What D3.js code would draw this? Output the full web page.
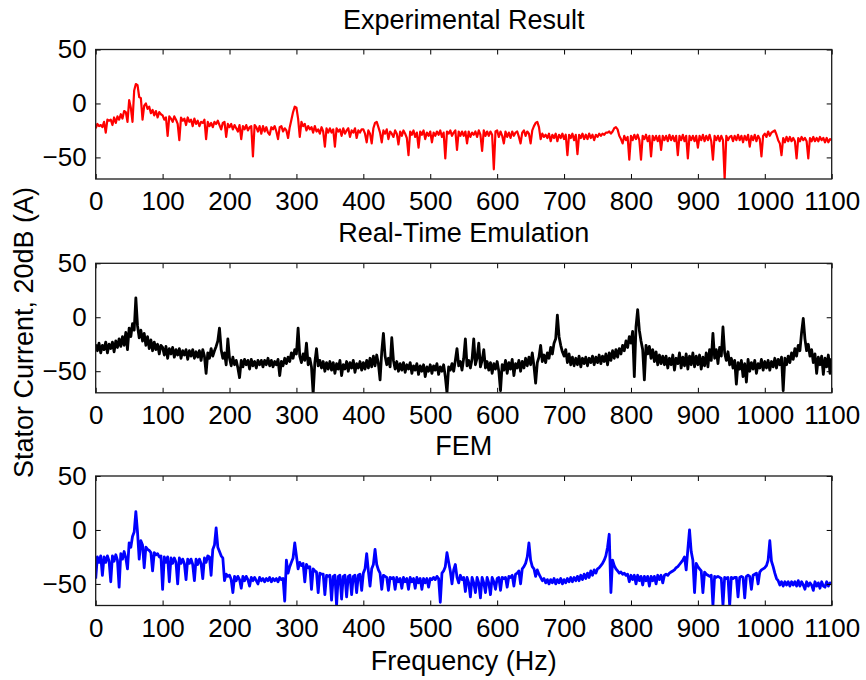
<!DOCTYPE html>
<html>
<head>
<meta charset="utf-8">
<script src="https://cdn.jsdelivr.net/npm/d3@7"></script>
<style>
  body { margin: 0; background: #fff; }
  svg text { font-family: "Liberation Sans", Arial, Helvetica, sans-serif; fill: #000; }
</style>
</head>
<body>
<svg id="chart" width="866" height="680"></svg>
<script>
// Stator current spectra (dB), one value per frequency bin
const binStep = 2.5; // Hz between bins
const panelTitles = ["Experimental Result", "Real-Time Emulation", "FEM"];
const xTicks = [0, 100, 200, 300, 400, 500, 600, 700, 800, 900, 1000, 1100];
const yTicks = [-50, 0, 50];
const yDomain = [-70, 50];
const xLabel = "Frequency (Hz)";
const yLabel = "Stator Current, 20dB (A)";

const experimental = [
  -23,-19,-21,-20,-22,-17,-27,-15,-16,-15,-20,-13,-18,-12,-15,-10,-14,-7,-8,-17,
  3,-4,-17,12,18,17,6,5,-15,-2,0,-5,-3,-9,-6,-11,-7,-13,-8,-10,
  -11,-15,-13,-30,-12,-14,-17,-12,-15,-19,-34,-13,-16,-14,-20,-13,-17,-15,-21,-14,
  -19,-16,-21,-17,-18,-15,-33,-17,-21,-18,-22,-17,-19,-16,-20,-24,-18,-17,-31,-19,
  -22,-19,-24,-20,-23,-26,-20,-33,-21,-24,-20,-25,-22,-21,-49,-20,-22,-26,-21,-28,
  -21,-26,-22,-27,-29,-22,-24,-21,-26,-33,-22,-21,-26,-23,-25,-32,-22,-15,-8,-3,
  -4,-14,-31,-17,-21,-19,-25,-21,-24,-22,-27,-21,-26,-24,-28,-22,-26,-40,-23,-27,
  -23,-27,-24,-40,-23,-26,-24,-30,-23,-28,-25,-23,-31,-25,-27,-23,-32,-25,-27,-24,
  -24,-28,-36,-25,-28,-37,-23,-18,-17,-22,-27,-36,-25,-28,-24,-33,-26,-28,-31,-25,
  -28,-38,-26,-30,-25,-28,-32,-48,-26,-29,-25,-31,-27,-41,-26,-29,-25,-33,-27,-30,
  -26,-36,-27,-30,-26,-29,-25,-31,-27,-51,-26,-28,-25,-30,-27,-25,-43,-26,-30,-26,
  -30,-26,-37,-26,-31,-27,-29,-26,-31,-25,-29,-44,-25,-30,-26,-30,-26,-29,-61,-26,
  -25,-31,-26,-30,-37,-26,-31,-27,-32,-26,-30,-27,-26,-31,-37,-27,-25,-30,-26,-28,
  -37,-25,-21,-18,-17,-22,-33,-28,-31,-29,-32,-28,-35,-29,-32,-28,-35,-29,-32,-28,
  -33,-29,-48,-29,-32,-28,-34,-29,-47,-29,-32,-28,-33,-29,-33,-28,-32,-29,-34,-29,
  -31,-28,-30,-28,-29,-27,-27,-26,-28,-26,-23,-22,-24,-30,-33,-37,-30,-34,-31,-52,
  -30,-34,-29,-33,-29,-34,-52,-30,-33,-29,-35,-30,-49,-30,-34,-30,-35,-30,-43,-30,
  -34,-30,-35,-29,-34,-30,-35,-30,-48,-30,-34,-29,-35,-30,-51,-30,-34,-30,-35,-30,
  -41,-30,-34,-29,-35,-30,-34,-29,-35,-52,-30,-34,-30,-35,-30,-34,-70,-30,-34,-31,
  -30,-35,-30,-34,-29,-34,-30,-36,-30,-34,-29,-40,-30,-34,-29,-35,-30,-33,-49,-30,
  -28,-31,-26,-30,-27,-26,-25,-29,-34,-37,-48,-32,-36,-31,-35,-31,-35,-32,-35,-51,
  -32,-35,-31,-34,-32,-35,-51,-32,-35,-31,-35,-32,-35,-31,-34,-32,-36,-32,-36,-33,-34
];

const emulation = [
  -25,-31,-24,-33,-26,-30,-23,-33,-25,-29,-23,-32,-22,-28,-20,-27,-18,-26,-14,-30,
  -10,-18,-6,-12,18,-8,-19,-12,-22,-15,-26,-18,-29,-21,-31,-23,-30,-25,-34,-26,
  -28,-35,-27,-38,-29,-34,-28,-37,-30,-35,-29,-38,-31,-35,-30,-39,-31,-36,-30,-38,
  -32,-37,-31,-40,-30,-36,-52,-33,-38,-29,-36,-31,-27,-22,-10,-30,-38,-33,-44,-20,
  -38,-45,-37,-44,-40,-47,-56,-40,-46,-39,-44,-40,-48,-39,-45,-41,-47,-40,-44,-40,
  -46,-40,-44,-38,-45,-40,-46,-41,-44,-39,-54,-41,-45,-38,-43,-37,-41,-33,-38,-30,
  -34,-10,-36,-42,-34,-40,-24,-44,-38,-46,-71,-42,-29,-45,-40,-47,-41,-50,-42,-48,
  -41,-49,-42,-52,-43,-48,-40,-54,-44,-48,-41,-50,-42,-47,-40,-51,-43,-47,-41,-49,
  -42,-48,-40,-47,-38,-46,-36,-45,-35,-43,-58,-32,-15,-36,-44,-38,-46,-19,-40,-48,
  -41,-50,-43,-49,-42,-51,-44,-48,-42,-52,-45,-49,-43,-53,-45,-50,-44,-55,-46,-50,
  -44,-52,-45,-49,-43,-53,-46,-50,-44,-55,-70,-46,-49,-43,-50,-40,-29,-45,-41,-49,
  -38,-20,-45,-40,-47,-39,-20,-44,-38,-24,-46,-40,-30,-47,-41,-49,-42,-52,-43,-48,
  -41,-50,-68,-44,-49,-40,-52,-42,-48,-39,-54,-43,-47,-40,-50,-41,-47,-38,-45,-37,
  -44,-33,-45,-61,-42,-37,-26,-41,-35,-42,-33,-38,-28,-34,-24,-20,2,-18,-26,-32,
  -36,-30,-42,-34,-44,-37,-45,-38,-44,-36,-46,-38,-43,-37,-45,-38,-42,-36,-44,-37,
  -42,-35,-43,-36,-41,-34,-44,-33,-40,-31,-38,-30,-37,-29,-34,-26,-31,-22,-28,-18,
  -24,-13,-55,-9,7,-12,-22,-30,-58,-26,-34,-27,-38,-30,-41,-32,-44,-35,-43,-36,
  -44,-36,-47,-38,-44,-35,-49,-38,-43,-33,-47,-37,-45,-34,-48,-36,-44,-33,-46,-36,
  -44,-35,-48,-37,-45,-33,-46,-30,-40,-15,-38,-30,-43,-28,-36,-9,-33,-40,-32,-44,
  -38,-47,-40,-62,-42,-48,-40,-55,-43,-60,-39,-50,-42,-48,-40,-52,-43,-47,-39,-49,
  -41,-47,-40,-49,-41,-46,-38,-47,-39,-44,-37,-68,-38,-44,-36,-42,-33,-39,-29,-36,
  -26,-31,-14,-1,-20,-31,-25,-36,-30,-42,-34,-52,-37,-44,-36,-53,-38,-46,-35,-52,-38
];

const fem = [
  -45,-25,-30,-24,-42,-25,-30,-24,-29,-48,-24,-29,-23,-28,-53,-22,-27,-20,-26,-36,
  -12,-16,-6,-2,17,-2,-27,-10,-14,-35,-16,-18,-19,-21,-38,-21,-23,-22,-25,-24,
  -55,-25,-30,-25,-48,-26,-31,-26,-30,-50,-26,-31,-27,-31,-46,-27,-31,-27,-32,-47,
  -27,-32,-27,-31,-45,-26,-30,-24,-25,-42,-18,-14,2,-16,-20,-24,-26,-47,-41,-43,
  -42,-46,-58,-43,-47,-43,-46,-54,-43,-47,-43,-46,-52,-44,-47,-44,-47,-50,-44,-47,
  -45,-48,-45,-47,-44,-48,-45,-47,-45,-48,-44,-46,-45,-66,-28,-40,-34,-30,-26,-12,
  -24,-36,-30,-33,-31,-48,-32,-35,-34,-55,-36,-38,-39,-58,-40,-41,-41,-60,-42,-43,
  -42,-65,-43,-42,-70,-43,-42,-64,-43,-42,-62,-43,-42,-60,-43,-42,-58,-42,-41,-56,
  -40,-36,-22,-38,-52,-36,-32,-18,-32,-37,-40,-55,-42,-43,-44,-56,-44,-45,-44,-55,
  -44,-48,-45,-54,-44,-48,-45,-55,-44,-48,-45,-54,-44,-49,-45,-55,-45,-49,-45,-53,
  -45,-46,-44,-46,-43,-45,-67,-40,-38,-34,-21,-30,-38,-50,-37,-32,-44,-49,-42,-46,
  -44,-57,-44,-49,-62,-44,-49,-58,-44,-49,-63,-44,-49,-58,-44,-49,-60,-44,-48,-55,
  -45,-44,-56,-44,-45,-44,-53,-43,-44,-42,-52,-41,-40,-38,-50,-36,-34,-31,-25,-12,
  -28,-34,-36,-43,-37,-41,-44,-47,-45,-49,-46,-50,-46,-49,-45,-50,-46,-49,-45,-50,
  -46,-49,-45,-48,-44,-48,-44,-47,-43,-47,-42,-46,-41,-45,-40,-44,-38,-42,-37,-40,
  -36,-35,-33,-31,-28,-24,-16,-4,-58,-28,-33,-36,-38,-40,-39,-41,-40,-42,-41,-48,
  -42,-46,-42,-50,-42,-47,-43,-51,-43,-47,-43,-52,-43,-47,-43,-50,-42,-46,-42,-49,
  -42,-41,-42,-40,-39,-38,-37,-35,-34,-32,-30,-28,-25,-37,-18,0,-20,-28,-58,-31,
  -34,-36,-38,-58,-39,-41,-42,-43,-42,-70,-43,-44,-43,-44,-45,-70,-44,-45,-44,-70,
  -44,-45,-44,-44,-62,-44,-43,-44,-63,-43,-42,-43,-55,-42,-41,-40,-50,-39,-37,-36,
  -35,-33,-28,-10,-29,-34,-40,-45,-47,-51,-48,-52,-48,-51,-48,-52,-48,-51,-48,-52,
  -47,-52,-48,-51,-55,-48,-52,-49,-51,-56,-48,-52,-49,-54,-48,-52,-53,-48,-52,-49,-50
];

const seriesList = [experimental, emulation, fem];
const seriesColors = ["#ff0000", "#000000", "#0000ff"];
const seriesWidths = [2.2, 2.8, 2.8];

// Layout
const plotLeft = 95.7, plotRight = 831.7;
const panelTops = [49.5, 263.3, 476];
const panelHeight = 129.5;
const tickFont = 26, labelFont = 27;

const svg = d3.select("#chart");
const x = d3.scaleLinear().domain([0, 1100]).range([plotLeft, plotRight]);
const fmt = d3.format("d");

function styleAxis(g) {
  g.select(".domain").remove();
  g.selectAll(".tick line").attr("stroke", "#000").attr("stroke-width", 1);
  g.selectAll(".tick text")
    .attr("font-size", tickFont)
    .attr("font-family", "Liberation Sans, Arial, sans-serif")
    .attr("fill", "#000");
  g.attr("font-size", null).attr("font-family", null);
}

seriesList.forEach((values, k) => {
  const top = panelTops[k];
  const bottom = top + panelHeight;
  const y = d3.scaleLinear().domain(yDomain).range([bottom, top]);
  const g = svg.append("g");

  const clipId = "clip" + k;
  svg.append("clipPath").attr("id", clipId)
    .append("rect")
    .attr("x", plotLeft).attr("y", top)
    .attr("width", plotRight - plotLeft).attr("height", panelHeight);

  const line = d3.line()
    .x((d, i) => x(i * binStep))
    .y(d => y(d));

  g.append("path")
    .datum(values)
    .attr("clip-path", `url(#${clipId})`)
    .attr("fill", "none")
    .attr("stroke", seriesColors[k])
    .attr("stroke-width", seriesWidths[k])
    .attr("stroke-linejoin", "round")
    .attr("d", line);

  // axes: ticks point inward on all four sides
  g.append("g").attr("transform", `translate(0,${bottom})`)
    .call(d3.axisBottom(x).tickValues(xTicks).tickFormat(fmt).tickSizeInner(-5).tickSizeOuter(0).tickPadding(13))
    .call(styleAxis);
  g.append("g").attr("transform", `translate(0,${top})`)
    .call(d3.axisTop(x).tickValues(xTicks).tickSizeInner(-5).tickSizeOuter(0).tickFormat(""))
    .call(styleAxis);
  g.append("g").attr("transform", `translate(${plotLeft},0)`)
    .call(d3.axisLeft(y).tickValues(yTicks).tickFormat(fmt).tickSizeInner(-5).tickSizeOuter(0).tickPadding(9))
    .call(styleAxis);
  g.append("g").attr("transform", `translate(${plotRight},0)`)
    .call(d3.axisRight(y).tickValues(yTicks).tickSizeInner(-5).tickSizeOuter(0).tickFormat(""))
    .call(styleAxis);

  g.append("rect")
    .attr("x", plotLeft).attr("y", top)
    .attr("width", plotRight - plotLeft).attr("height", panelHeight)
    .attr("fill", "none").attr("stroke", "#1a1a1a").attr("stroke-width", 1.3);

  g.append("text")
    .attr("x", (plotLeft + plotRight) / 2)
    .attr("y", top - 21)
    .attr("text-anchor", "middle")
    .attr("font-size", labelFont)
    .text(panelTitles[k]);
});

svg.append("text")
  .attr("x", (plotLeft + plotRight) / 2)
  .attr("y", 670)
  .attr("text-anchor", "middle")
  .attr("font-size", labelFont)
  .text(xLabel);

svg.append("text")
  .attr("transform", "translate(33,332.5) rotate(-90)")
  .attr("text-anchor", "middle")
  .attr("font-size", labelFont)
  .text(yLabel);
</script>
</body>
</html>
